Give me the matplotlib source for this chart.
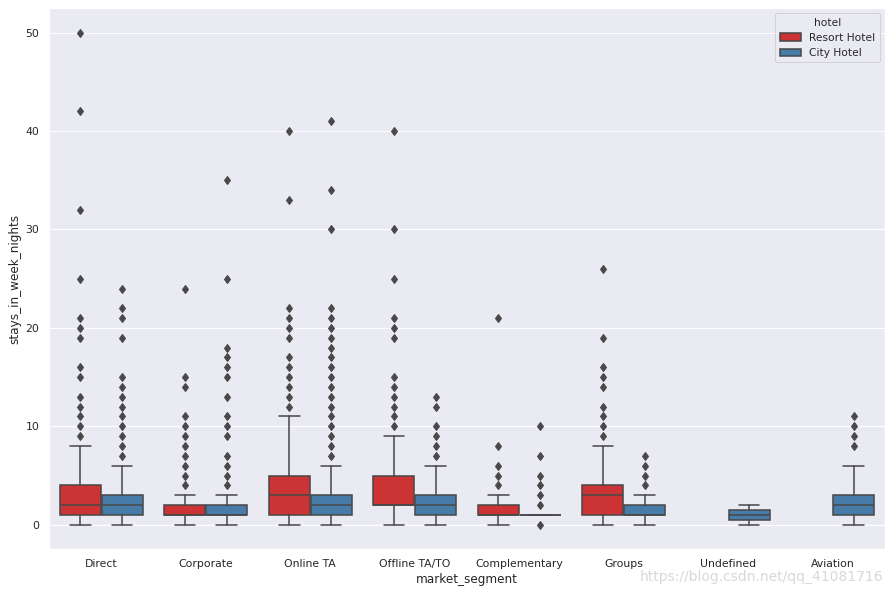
import colorsys
import matplotlib
matplotlib.use("Agg")
import matplotlib.pyplot as plt
import matplotlib.patches as mpatches
import seaborn as sns

categories = ["Direct", "Corporate", "Online TA", "Offline TA/TO", "Complementary",
              "Groups", "Undefined", "Aviation"]
hotels = ["Resort Hotel", "City Hotel"]

# five-number summaries: whislo, q1, med, q3, whishi (None = no data)
resort_stats = [
    (0, 1, 2, 4, 8),
    (0, 1, 1, 2, 3),
    (0, 1, 3, 5, 11),
    (0, 2, 2, 5, 9),
    (0, 1, 1, 2, 3),
    (0, 1, 3, 4, 8),
    None,
    None,
]
resort_fliers = [
    [9, 10, 11, 12, 13, 15, 16, 19, 20, 21, 25, 32, 42, 50],
    [4, 5, 6, 7, 8, 9, 10, 11, 14, 15, 24],
    [12, 13, 14, 15, 16, 17, 19, 20, 21, 22, 33, 40],
    [10, 11, 12, 13, 14, 15, 19, 20, 21, 25, 30, 40],
    [4, 5, 6, 8, 21],
    [9, 10, 11, 12, 14, 15, 16, 19, 26],
    [],
    [],
]
city_stats = [
    (0, 1, 2, 3, 6),
    (0, 1, 1, 2, 3),
    (0, 1, 2, 3, 6),
    (0, 1, 2, 3, 6),
    (1, 1, 1, 1, 1),
    (0, 1, 1, 2, 3),
    (0, 0.5, 1, 1.5, 2),
    (0, 1, 2, 3, 6),
]
city_fliers = [
    [7, 8, 9, 10, 11, 12, 13, 14, 15, 19, 21, 22, 24],
    [4, 5, 6, 7, 9, 10, 11, 13, 15, 16, 17, 18, 25, 35],
    [7, 8, 9, 10, 11, 12, 13, 14, 15, 16, 17, 18, 19, 20, 21, 22, 30, 34, 41],
    [7, 8, 9, 10, 12, 13],
    [0, 2, 3, 4, 5, 7, 10],
    [4, 5, 6, 7],
    [],
    [8, 9, 10, 11],
]

sns.set_theme(style="darkgrid")

base = sns.color_palette("Set1", 2)
def desat(c, prop=0.75):
    h, l, s = colorsys.rgb_to_hls(*c)
    return colorsys.hls_to_rgb(h, l, s * prop)
colors = [desat(c) for c in base]
lum = min(colorsys.rgb_to_hls(*c)[1] for c in colors) * 0.6
gray = (lum, lum, lum)
lw = 1.5

fig = plt.figure(figsize=(12, 8), dpi=74.25)
ax = fig.add_axes([0.055, 0.0752, 0.9383, 0.9113])

def to_bxp(stats, fliers):
    out, pos = [], []
    for i, (s, f) in enumerate(zip(stats, fliers)):
        if s is None:
            continue
        lo, q1, med, q3, hi = s
        out.append(dict(whislo=lo, q1=q1, med=med, q3=q3, whishi=hi, fliers=f))
        pos.append(i)
    return out, pos

for k, (stats, fliers) in enumerate([(resort_stats, resort_fliers), (city_stats, city_fliers)]):
    bx, pos = to_bxp(stats, fliers)
    offset = -0.2 if k == 0 else 0.2
    ax.bxp(bx, positions=[p + offset for p in pos], widths=0.4 * 0.98,
           patch_artist=True, manage_ticks=False,
           boxprops=dict(facecolor=colors[k], edgecolor=gray, linewidth=lw),
           whiskerprops=dict(color=gray, linewidth=lw),
           capprops=dict(color=gray, linewidth=lw),
           medianprops=dict(color=gray, linewidth=lw),
           flierprops=dict(marker="d", markersize=6, markerfacecolor=gray,
                           markeredgecolor=gray, linestyle="none"))

ax.set_xticks(range(len(categories)))
ax.set_xticklabels(categories, fontsize=10.5)
ax.tick_params(axis="y", labelsize=10.5)
ax.set_xlim(-0.5, len(categories) - 0.5)
ax.set_ylim(-2.5, 52.5)
ax.set_yticks([0, 10, 20, 30, 40, 50])
ax.xaxis.grid(False)
ax.set_xlabel("market_segment", fontsize=11.7)
ax.set_ylabel("stays_in_week_nights", fontsize=11.7)

handles = [mpatches.Patch(facecolor=colors[i], edgecolor=gray, linewidth=lw, label=h)
           for i, h in enumerate(hotels)]
ax.legend(handles=handles, title="hotel", loc="upper right", fontsize=10.3,
          title_fontsize=10.3)

fig.text(0.991, 0.028, "https://blog.csdn.net/qq_41081716", ha="right", va="center",
         fontsize=13.5, color="#d8d8d8")

fig.savefig("out.png", dpi=74.25)
